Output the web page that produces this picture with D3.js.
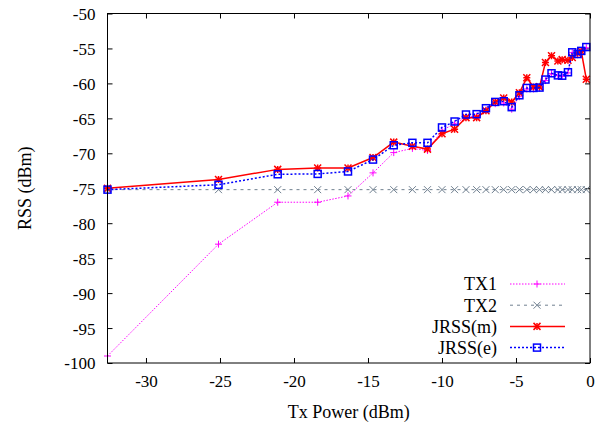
<!DOCTYPE html>
<html>
<head>
<meta charset="utf-8">
<script src="https://cdn.jsdelivr.net/npm/d3@7"></script>
<style>
  body { margin: 0; background: #fff; }
  svg text { font-family: 'Liberation Serif', 'Times New Roman', serif; fill: #000; }
</style>
</head>
<body>
<svg id="chart" width="606" height="430"></svg>
<script>
// Tx power levels (dBm)
const txPower = [-32.6, -25.1, -21.1, -18.4, -16.35, -14.66, -13.26, -12.0, -10.98, -10.0,
  -9.15, -8.38, -7.66, -7.03, -6.4, -5.83, -5.29, -4.77, -4.27, -3.82,
  -3.41, -3.01, -2.6, -2.17, -1.88, -1.49, -1.2, -0.84, -0.59, -0.25];

const tx1 = [-99, -83, -77, -77, -76.1, -72.8, -69.9, -69.3, -69.6, -66.7,
  -65.8, -64.8, -64.7, -63.8, -62.9, -62.8, -63.7, -61.9, -60.8, -60.8,
  -60.7, -59.6, -58.6, -58.9, -59.0, -58.5, -55.6, -55.9, -55.4, -54.9];

const tx2 = [-75.2, -75.2, -75.2, -75.2, -75.2, -75.2, -75.2, -75.2, -75.2, -75.2,
  -75.2, -75.2, -75.2, -75.2, -75.2, -75.2, -75.2, -75.2, -75.2, -75.2,
  -75.2, -75.2, -75.2, -75.2, -75.2, -75.2, -75.2, -75.2, -75.2, -75.2];

const jrssM = [-75.0, -73.75, -72.3, -72.1, -72.1, -70.6, -68.4, -69.0, -69.4, -67.2,
  -66.55, -64.9, -64.9, -63.9, -62.65, -62.1, -62.65, -61.35, -59.2, -60.5,
  -60.5, -57.0, -56.05, -56.8, -56.6, -56.7, -56.3, -55.7, -55.4, -59.4];

const jrssE = [-75.2, -74.5, -73.0, -72.95, -72.6, -70.9, -68.85, -68.5, -68.5, -66.3,
  -65.45, -64.45, -64.4, -63.55, -62.65, -62.55, -63.4, -61.7, -60.65, -60.65,
  -60.6, -59.45, -58.55, -58.85, -58.9, -58.4, -55.55, -55.8, -55.35, -54.8];

const xTicks = [-30, -25, -20, -15, -10, -5, 0];
const yTicks = [-100, -95, -90, -85, -80, -75, -70, -65, -60, -55, -50];

const seriesNames = ["TX1", "TX2", "JRSS(m)", "JRSS(e)"];

const margin = { top: 13.5, right: 16, bottom: 67, left: 107.5 };
const W = 606, H = 430;
const width = W - margin.left - margin.right;
const height = H - margin.top - margin.bottom;

const svg = d3.select("#chart");
const g = svg.append("g").attr("transform", `translate(${margin.left},${margin.top})`);

const x = d3.scaleLinear().domain([-32.6, 0]).range([0, width]);
const y = d3.scaleLinear().domain([-100, -50]).range([height, 0]);

// plain hyphen minus like gnuplot
const fmt = d => String(d);

// axes with inward ticks, mirrored on top/right
const axB = g.append("g").attr("transform", `translate(0,${height})`)
  .call(d3.axisBottom(x).tickValues(xTicks).tickSizeInner(-5).tickSizeOuter(0).tickPadding(12).tickFormat(fmt));
const axL = g.append("g")
  .call(d3.axisLeft(y).tickValues(yTicks).tickSizeInner(-5).tickSizeOuter(0).tickPadding(12).tickFormat(fmt));
const axT = g.append("g")
  .call(d3.axisTop(x).tickValues(xTicks).tickSizeInner(-5).tickSizeOuter(0).tickFormat(""));
const axR = g.append("g").attr("transform", `translate(${width},0)`)
  .call(d3.axisRight(y).tickValues(yTicks).tickSizeInner(-5).tickSizeOuter(0).tickFormat(""));

[axB, axL, axT, axR].forEach(a => {
  a.attr("font-family", null);
  a.select(".domain").remove();
  a.selectAll(".tick line").attr("stroke", "#000").attr("stroke-width", 1);
  a.selectAll("text").style("font-size", "17px").attr("fill", "#000");
});
axL.selectAll("text").attr("dy", "0.35em");

// Series definitions
const series = [
  { name: seriesNames[0], vals: tx1, color: "#ff00ff", width: 1, dash: "1.5,1.5", marker: "plus" },
  { name: seriesNames[1], vals: tx2, color: "#708090", width: 1, dash: "3,4", marker: "cross" },
  { name: seriesNames[2], vals: jrssM, color: "#ff0000", width: 1.5, dash: null, marker: "star" },
  { name: seriesNames[3], vals: jrssE, color: "#0000ff", width: 1.5, dash: "2,2", marker: "square" }
];

const line = d3.line().x(d => x(d[0])).y(d => y(d[1]));

function drawMarker(sel, type, color) {
  const s = 3.5;
  if (type === "plus" || type === "star") {
    sel.append("path").attr("d", `M${-s},0H${s}M0,${-s}V${s}`)
      .attr("stroke", color).attr("stroke-width", type === "star" ? 1.5 : 1).attr("fill", "none");
  }
  if (type === "cross" || type === "star") {
    sel.append("path").attr("d", `M${-s},${-s}L${s},${s}M${-s},${s}L${s},${-s}`)
      .attr("stroke", color).attr("stroke-width", type === "star" ? 1.5 : 1).attr("fill", "none");
  }
  if (type === "square") {
    sel.append("rect").attr("x", -s).attr("y", -s).attr("width", 2 * s).attr("height", 2 * s)
      .attr("stroke", color).attr("stroke-width", 1.5).attr("fill", "none");
  }
}

series.forEach(sr => {
  const pts = txPower.map((t, i) => [t, sr.vals[i]]);
  g.append("path")
    .datum(pts)
    .attr("d", line)
    .attr("fill", "none")
    .attr("stroke", sr.color)
    .attr("stroke-width", sr.width)
    .attr("stroke-dasharray", sr.dash);
  g.selectAll(null)
    .data(pts)
    .enter().append("g")
    .attr("transform", d => `translate(${x(d[0])},${y(d[1])})`)
    .each(function () { drawMarker(d3.select(this), sr.marker, sr.color); });
});

// frame
g.append("rect").attr("width", width).attr("height", height)
  .attr("fill", "none").attr("stroke", "#000").attr("stroke-width", 1);

// legend
const legend = g.selectAll(".legend")
  .data(series)
  .enter().append("g")
  .attr("class", "legend")
  .attr("transform", (d, i) => `translate(${497 - margin.left},${284 + i * 21.2 - margin.top})`);

legend.append("text")
  .attr("x", 0).attr("dy", "0.35em")
  .attr("text-anchor", "end")
  .style("font-size", "18px")
  .text(d => d.name);

legend.append("line")
  .attr("x1", 13).attr("x2", 68)
  .attr("stroke", d => d.color)
  .attr("stroke-width", d => d.width)
  .attr("stroke-dasharray", d => d.dash);

legend.append("g").attr("transform", "translate(40,0)")
  .each(function (d) { drawMarker(d3.select(this), d.marker, d.color); });

// axis titles
svg.append("text")
  .attr("x", margin.left + width / 2)
  .attr("y", 418)
  .attr("text-anchor", "middle")
  .style("font-size", "18px")
  .text("Tx Power (dBm)");

svg.append("text")
  .attr("transform", `translate(31,${margin.top + height / 2}) rotate(-90)`)
  .attr("text-anchor", "middle")
  .style("font-size", "18px")
  .text("RSS (dBm)");
</script>
</body>
</html>
